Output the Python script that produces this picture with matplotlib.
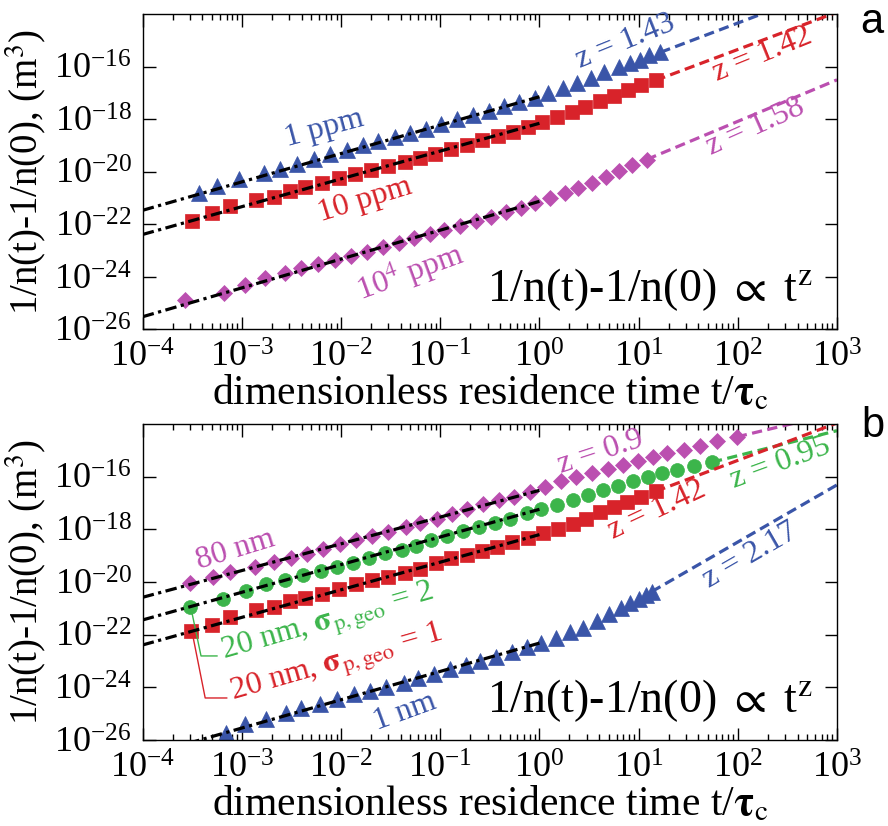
import numpy as np
import matplotlib
matplotlib.use('Agg')
import matplotlib.pyplot as plt
from matplotlib.ticker import LogLocator, FixedLocator, NullLocator

plt.rcParams['font.family'] = ['Liberation Serif', 'DejaVu Serif']
plt.rcParams['mathtext.fontset'] = 'stix'
plt.rcParams['axes.unicode_minus'] = False

BLUE    = '#3a55a8'
RED     = '#d8232a'
MAGENTA = '#bb4fb0'
GREEN   = '#3cb54b'

# ---- panel a : log10(t/tau_c) and log10(1/n(t)-1/n(0)) ----
A_1PPM_T = [-3.43, -3.25, -3.03, -2.78, -2.62, -2.44, -2.27, -2.11, -1.94, -1.78,
            -1.63, -1.46, -1.31, -1.14, -0.99, -0.83, -0.67, -0.51, -0.36, -0.21,
            -0.05, 0.09, 0.24, 0.38, 0.52, 0.65, 0.80, 0.91, 1.01, 1.10, 1.22]
A_1PPM_Y = [-20.80, -20.55, -20.27, -20.04, -19.89, -19.70, -19.53, -19.34, -19.19, -18.99,
            -18.84, -18.69, -18.53, -18.37, -18.20, -18.01, -17.86, -17.70, -17.52, -17.36,
            -17.19, -17.00, -16.82, -16.62, -16.43, -16.22, -16.03, -15.86, -15.75, -15.58, -15.46]

A_10PPM_T = [-3.50, -3.30, -3.12, -2.86, -2.68, -2.52, -2.36, -2.19, -2.02, -1.86,
             -1.70, -1.53, -1.36, -1.20, -1.05, -0.89, -0.73, -0.58, -0.42, -0.27,
             -0.12, 0.03, 0.18, 0.33, 0.46, 0.61, 0.75, 0.89, 1.02, 1.17]
A_10PPM_Y = [-21.88, -21.59, -21.31, -21.09, -20.96, -20.74, -20.58, -20.42, -20.24, -20.08,
             -19.95, -19.79, -19.63, -19.47, -19.32, -19.13, -18.97, -18.81, -18.66, -18.50,
             -18.31, -18.12, -17.93, -17.74, -17.55, -17.33, -17.14, -16.91, -16.72, -16.53]

A_1E4PPM_T = [-3.57, -3.18, -2.97, -2.77, -2.57, -2.40, -2.23, -2.06, -1.90, -1.74,
              -1.58, -1.42, -1.26, -1.10, -0.96, -0.80, -0.64, -0.49, -0.34, -0.19,
              -0.04, 0.11, 0.26, 0.39, 0.53, 0.67, 0.80, 0.93, 1.08]
A_1E4PPM_Y = [-24.89, -24.61, -24.32, -24.03, -23.85, -23.68, -23.53, -23.37, -23.22, -23.05,
              -22.86, -22.71, -22.52, -22.36, -22.22, -22.08, -21.88, -21.72, -21.53, -21.38,
              -21.18, -21.00, -20.81, -20.62, -20.42, -20.20, -19.98, -19.76, -19.54]

# early-time fits (black dash-dot): (log t, log y) at both ends
A_FIT_1PPM   = [(-4.0, -21.47), (0.0, -17.15)]
A_FIT_10PPM  = [(-4.0, -22.39), (0.0, -18.16)]
A_FIT_1E4PPM = [(-4.0, -25.52), (0.0, -21.13)]
A_Z = [1.43, 1.42, 1.58]

# ---- panel b ----
B_80NM_T = [-3.52, -3.29, -3.12, -2.87, -2.68, -2.50, -2.34, -2.18, -2.01, -1.85,
            -1.69, -1.53, -1.35, -1.20, -1.03, -0.88, -0.73, -0.57, -0.41, -0.26,
            -0.10, 0.06, 0.22, 0.37, 0.53, 0.69, 0.84, 0.99, 1.14, 1.29,
            1.46, 1.62, 1.79, 1.99]
B_80NM_Y = [-20.05, -19.80, -19.61, -19.42, -19.25, -19.10, -18.94, -18.76, -18.57, -18.40,
            -18.25, -18.10, -17.90, -17.75, -17.61, -17.42, -17.23, -17.04, -16.89, -16.76,
            -16.59, -16.40, -16.18, -16.02, -15.88, -15.71, -15.56, -15.40, -15.25, -15.12,
            -14.99, -14.83, -14.66, -14.49]

B_20NM_S2_T = [-3.52, -3.19, -2.96, -2.76, -2.57, -2.38, -2.20, -2.04, -1.88, -1.72,
               -1.56, -1.39, -1.24, -1.09, -0.93, -0.77, -0.61, -0.45, -0.30, -0.13,
               0.02, 0.18, 0.34, 0.49, 0.64, 0.79, 0.94, 1.09, 1.24, 1.39, 1.56, 1.74]
B_20NM_S2_Y = [-20.96, -20.65, -20.36, -20.09, -19.92, -19.74, -19.58, -19.42, -19.26, -19.10,
               -18.91, -18.78, -18.62, -18.42, -18.26, -18.07, -17.92, -17.77, -17.61, -17.39,
               -17.23, -17.07, -16.89, -16.70, -16.51, -16.34, -16.18, -16.02, -15.87, -15.75,
               -15.60, -15.45]

B_20NM_S1_T = [-3.51, -3.30, -3.12, -2.86, -2.68, -2.52, -2.36, -2.19, -2.02, -1.85,
               -1.69, -1.53, -1.36, -1.20, -1.04, -0.89, -0.73, -0.58, -0.43, -0.28,
               -0.12, 0.04, 0.19, 0.34, 0.47, 0.61, 0.75, 0.88, 1.02, 1.17]
B_20NM_S1_Y = [-21.86, -21.65, -21.32, -21.06, -20.94, -20.73, -20.59, -20.44, -20.26, -20.09,
               -19.94, -19.81, -19.65, -19.50, -19.26, -19.10, -18.97, -18.81, -18.66, -18.49,
               -18.33, -18.15, -17.99, -17.80, -17.61, -17.35, -17.15, -16.97, -16.77, -16.56]

B_1NM_T = [-3.16, -2.97, -2.76, -2.56, -2.40, -2.21, -2.04, -1.87, -1.71, -1.55,
           -1.37, -1.22, -1.06, -0.90, -0.74, -0.60, -0.44, -0.28, -0.13, 0.02,
           0.17, 0.31, 0.44, 0.58, 0.70, 0.82, 0.91, 1.00, 1.07, 1.13]
B_1NM_Y = [-25.75, -25.41, -25.20, -24.99, -24.78, -24.62, -24.44, -24.25, -24.12, -23.98,
           -23.82, -23.66, -23.49, -23.32, -23.15, -22.99, -22.84, -22.65, -22.48, -22.31,
           -22.14, -21.91, -21.74, -21.48, -21.23, -20.99, -20.81, -20.63, -20.49, -20.37]

B_FIT_80NM   = [(-4.0, -20.58), (0.0, -16.52)]
B_FIT_20NM_2 = [(-4.0, -21.44), (0.0, -17.24)]
B_FIT_20NM_1 = [(-4.0, -22.39), (0.0, -18.20)]
B_FIT_1NM    = [(-4.0, -26.62), (0.0, -22.32)]
B_Z = [0.9, 0.95, 1.42, 2.17]

TMAX_LOG = 3.0


def _series(ax, logt, logy, fit, z, color, marker, ms):
    ft = [10.0 ** p[0] for p in fit]
    fy = [10.0 ** p[1] for p in fit]
    ax.plot(ft, fy, color='black', lw=2.3, ls=(0, (3.6, 1.4, 1.0, 1.4)), zorder=3)
    ax.plot(10.0 ** np.asarray(logt), 10.0 ** np.asarray(logy), ls='none',
            marker=marker, ms=ms, color=color, mec=color, mew=0.5, zorder=2)
    # late-time power law t^z continued from the last point
    t0, y0 = logt[-1], logy[-1]
    lt = np.array([t0, TMAX_LOG])
    ax.plot(10.0 ** lt, 10.0 ** (y0 + z * (lt - t0)), color=color, lw=2.3,
            ls=(0, (3.2, 1.7)), zorder=2)


def _style(ax):
    ax.set_xscale('log'); ax.set_yscale('log')
    ax.set_xlim(1e-4, 1e3); ax.set_ylim(1e-26, 1e-14)
    ax.xaxis.set_major_locator(LogLocator(base=10, numticks=20))
    ax.xaxis.set_minor_locator(LogLocator(base=10, subs=np.arange(2, 10), numticks=20))
    ax.yaxis.set_major_locator(FixedLocator(10.0 ** np.arange(-26, -15, 2)))
    ax.yaxis.set_minor_locator(NullLocator())
    ax.tick_params(which='both', direction='in', top=True, right=True, width=1.0)
    ax.tick_params(which='major', length=9, labelsize=26)
    ax.tick_params(axis='x', which='major', pad=9)
    ax.tick_params(axis='y', which='major', pad=8)
    ax.tick_params(which='minor', length=4.5)
    for s in ax.spines.values():
        s.set_linewidth(1.0)
    ax.set_xlabel(r'dimensionless residence time t/$\mathbf{\tau}_{\mathrm{c}}$',
                  fontsize=30, labelpad=-1)
    ax.set_ylabel(r'1/n(t)-1/n(0), (m$^{3}$)', fontsize=28, labelpad=4)
    ax.text(0.73, 0.125, r'1/n(t)-1/n(0) $\propto$ t$^{\mathrm{z}}$', transform=ax.transAxes,
            ha='center', va='center', fontsize=33)


def _label(ax, x, y, s, color, rot, size=23):
    ax.text(x, y, s, transform=ax.transAxes, color=color, rotation=rot,
            rotation_mode='anchor', ha='center', va='center', fontsize=size)


fig = plt.figure(figsize=(8.88, 8.26), dpi=100)
ax1 = fig.add_axes([0.1607, 0.6013, 0.7819, 0.3818])
ax2 = fig.add_axes([0.1607, 0.1041, 0.7819, 0.3826])

_series(ax1, A_1PPM_T, A_1PPM_Y, A_FIT_1PPM, A_Z[0], BLUE, '^', 11)
_series(ax1, A_10PPM_T, A_10PPM_Y, A_FIT_10PPM, A_Z[1], RED, 's', 9.5)
_series(ax1, A_1E4PPM_T, A_1E4PPM_Y, A_FIT_1E4PPM, A_Z[2], MAGENTA, 'D', 8.5)
_style(ax1)
_label(ax1, 0.262, 0.638, '1 ppm', BLUE, 15)
_label(ax1, 0.320, 0.410, '10 ppm', RED, 17)
_label(ax1, 0.385, 0.182, r'10$^{4}$ ppm', MAGENTA, 20)
_label(ax1, 0.695, 0.911, 'z = 1.43', BLUE, 22)
_label(ax1, 0.893, 0.870, 'z = 1.42', RED, 22)
_label(ax1, 0.882, 0.642, 'z = 1.58', MAGENTA, 24)

_series(ax2, B_80NM_T, B_80NM_Y, B_FIT_80NM, B_Z[0], MAGENTA, 'D', 8.5)
_series(ax2, B_20NM_S2_T, B_20NM_S2_Y, B_FIT_20NM_2, B_Z[1], GREEN, 'o', 10)
_series(ax2, B_20NM_S1_T, B_20NM_S1_Y, B_FIT_20NM_1, B_Z[2], RED, 's', 9.5)
_series(ax2, B_1NM_T, B_1NM_Y, B_FIT_1NM, B_Z[3], BLUE, '^', 11)
_style(ax2)
_label(ax2, 0.133, 0.601, '80 nm', MAGENTA, 17)
_label(ax2, 0.267, 0.370, r'20 nm, $\mathbf{\sigma}_{\mathrm{p,geo}}$ = 2', GREEN, 16)
_label(ax2, 0.280, 0.240, r'20 nm, $\mathbf{\sigma}_{\mathrm{p,geo}}$ = 1', RED, 16)
_label(ax2, 0.378, 0.089, '1 nm', BLUE, 20)
_label(ax2, 0.659, 0.911, 'z = 0.9', MAGENTA, 18)
_label(ax2, 0.918, 0.877, 'z = 0.95', GREEN, 20)
_label(ax2, 0.741, 0.728, 'z = 1.42', RED, 25)
_label(ax2, 0.875, 0.585, 'z = 2.17', BLUE, 30)
# leader lines from the first points to their labels
ax2.plot([0.071, 0.084, 0.107], [0.402, 0.266, 0.266], color=GREEN, lw=1.0,
         transform=ax2.transAxes, clip_on=False)
ax2.plot([0.072, 0.090, 0.121], [0.332, 0.133, 0.133], color=RED, lw=1.0,
         transform=ax2.transAxes, clip_on=False)

fig.text(0.982, 0.973, 'a', family='Liberation Sans', fontsize=30, ha='center', va='center')
fig.text(0.983, 0.484, 'b', family='Liberation Sans', fontsize=30, ha='center', va='center')

fig.savefig('out.png', dpi=100)
plt.close(fig)
